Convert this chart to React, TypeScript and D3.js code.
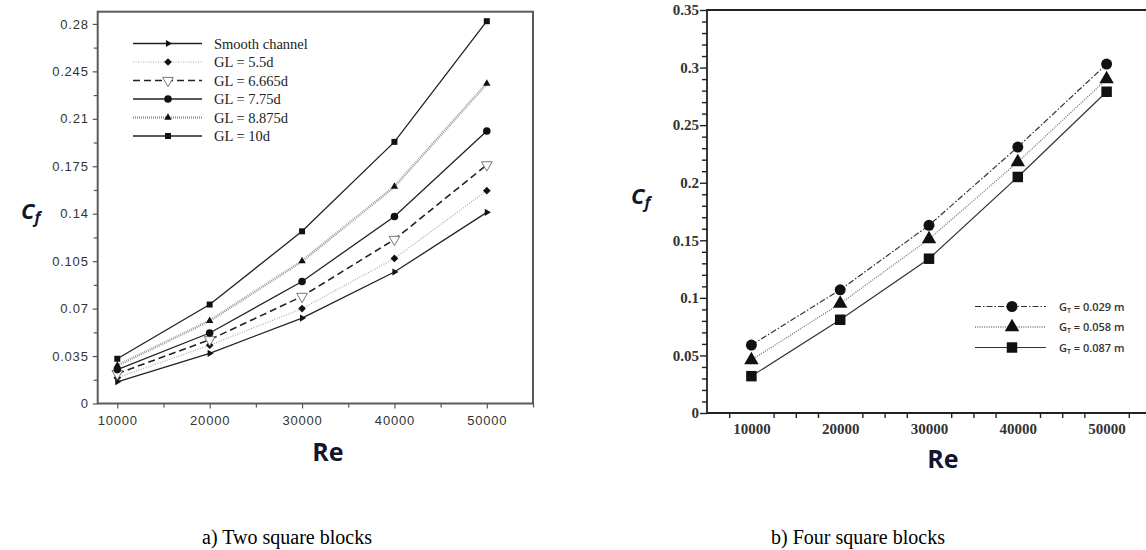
import React, { useEffect, useRef } from 'react';
import * as d3 from 'd3';

// Re values shared by both panels
const reValues = [10000, 20000, 30000, 40000, 50000];

// Panel a) two square blocks
const seriesA = ['Smooth channel', 'GL = 5.5d', 'GL = 6.665d', 'GL = 7.75d', 'GL = 8.875d', 'GL = 10d'];
const smooth = [0.016, 0.037, 0.063, 0.097, 0.141];
const gl55 = [0.019, 0.043, 0.070, 0.107, 0.157];
const gl6665 = [0.022, 0.047, 0.079, 0.121, 0.176];
const gl775 = [0.025, 0.052, 0.090, 0.138, 0.201];
const gl8875 = [0.028, 0.061, 0.105, 0.160, 0.236];
const gl10 = [0.033, 0.073, 0.127, 0.193, 0.282];
const yTicksA = [0, 0.035, 0.07, 0.105, 0.14, 0.175, 0.21, 0.245, 0.28];

// Panel b) four square blocks
const seriesB = ['0.029', '0.058', '0.087'];
const gt029 = [0.059, 0.107, 0.163, 0.231, 0.303];
const gt058 = [0.046, 0.095, 0.151, 0.218, 0.290];
const gt087 = [0.032, 0.081, 0.134, 0.205, 0.279];
const yTicksB = [0, 0.05, 0.1, 0.15, 0.2, 0.25, 0.3, 0.35];

export default function App() {
  const ref = useRef<SVGSVGElement | null>(null);

  useEffect(() => {
    const svg = d3.select(ref.current);
    svg.selectAll('*').remove();

    // ---------- panel a ----------
    const xA = d3.scaleLinear().domain([7880, 55000]).range([97.7, 533]);
    const yA = d3.scaleLinear().domain([0, 0.289]).range([403.5, 11.7]);
    const ga = svg.append('g');

    ga.append('rect')
      .attr('x', 97.7).attr('y', 11.7)
      .attr('width', 533 - 97.7).attr('height', 403.5 - 11.7)
      .attr('fill', 'none').attr('stroke', '#5a5a5a').attr('stroke-width', 2);

    const axA = ga.append('g').attr('transform', 'translate(0,403.5)')
      .call(d3.axisBottom(xA).tickValues(reValues).tickSize(5).tickFormat(d3.format('d')));
    ga.append('g').attr('transform', 'translate(0,403.5)')
      .call(d3.axisBottom(xA).tickValues([15000, 25000, 35000, 45000, 55000]).tickSize(4).tickFormat(() => ''));
    const ayA = ga.append('g').attr('transform', 'translate(97.7,0)')
      .call(d3.axisLeft(yA).tickValues(yTicksA).tickSize(5).tickFormat(d => String(+d)));
    ga.append('g').attr('transform', 'translate(97.7,0)')
      .call(d3.axisLeft(yA).tickValues(yTicksA.slice(0, -1).map(v => v + 0.0175)).tickSize(4).tickFormat(() => ''));
    ga.selectAll('.domain').remove();
    ga.selectAll('.tick line').attr('stroke', '#555').attr('stroke-width', 1.2);
    axA.selectAll('text').attr('font-family', 'Liberation Sans, Arial, sans-serif')
      .attr('font-size', 13).attr('letter-spacing', 0.8).attr('fill', '#333').attr('dy', '1.05em');
    ayA.selectAll('text').attr('font-family', 'Liberation Sans, Arial, sans-serif')
      .attr('font-size', 13).attr('letter-spacing', 0.8).attr('fill', '#333').attr('x', -9);

    const dataA = [smooth, gl55, gl6665, gl775, gl8875, gl10];
    const styleA = [
      { stroke: '#222', width: 1.3, dash: null, sym: d3.symbolTriangle, size: 22, rot: 90, fill: '#111', mstroke: 'none' },
      { stroke: '#aaa', width: 1.2, dash: '1,1.5', sym: d3.symbolSquare, size: 30, rot: 45, fill: '#111', mstroke: 'none' },
      { stroke: '#222', width: 1.6, dash: '7,4', sym: d3.symbolTriangle, size: 50, rot: 180, fill: '#fff', mstroke: '#777' },
      { stroke: '#222', width: 1.3, dash: null, sym: d3.symbolCircle, size: 45, rot: 0, fill: '#111', mstroke: 'none' },
      { stroke: '#999', width: 2.6, dash: '1,1', sym: d3.symbolTriangle, size: 24, rot: 0, fill: '#111', mstroke: 'none' },
      { stroke: '#222', width: 1.3, dash: null, sym: d3.symbolSquare, size: 36, rot: 0, fill: '#111', mstroke: 'none' },
    ];
    const lineA = d3.line<number>().x((_, i) => xA(reValues[i])).y(d => yA(d));

    dataA.forEach((vals, k) => {
      const s = styleA[k];
      ga.append('path').attr('d', lineA(vals)).attr('fill', 'none')
        .attr('stroke', s.stroke).attr('stroke-width', s.width)
        .attr('stroke-dasharray', s.dash);
    });
    dataA.forEach((vals, k) => {
      const s = styleA[k];
      ga.selectAll(null).data(vals).enter().append('path')
        .attr('d', d3.symbol().type(s.sym).size(s.size)())
        .attr('transform', (d, i) => `translate(${xA(reValues[i])},${yA(d)}) rotate(${s.rot})`)
        .attr('fill', s.fill).attr('stroke', s.mstroke).attr('stroke-width', 1);
    });

    // legend a
    seriesA.forEach((name, k) => {
      const s = styleA[k];
      const y = 43.5 + k * 18.5;
      ga.append('line').attr('x1', 133).attr('x2', 202).attr('y1', y).attr('y2', y)
        .attr('stroke', s.stroke).attr('stroke-width', s.width).attr('stroke-dasharray', s.dash);
      ga.append('path').attr('d', d3.symbol().type(s.sym).size(s.size)())
        .attr('transform', `translate(168,${y}) rotate(${s.rot})`)
        .attr('fill', s.fill).attr('stroke', s.mstroke).attr('stroke-width', 1);
      ga.append('text').attr('x', 214).attr('y', y + 5)
        .attr('font-family', 'Liberation Serif, Times New Roman, serif')
        .attr('font-size', 14.5).attr('fill', '#222').text(name);
    });

    // ---------- panel b ----------
    const xB = d3.scaleLinear().domain([5000, 55000]).range([707, 1151]);
    const yB = d3.scaleLinear().domain([0, 0.35]).range([413, 10]);
    const gb = svg.append('g');

    const minB = d3.range(7500, 55000, 2500).filter(v => v % 10000 !== 0);
    const axB = gb.append('g').attr('transform', 'translate(0,413)')
      .call(d3.axisBottom(xB).tickValues(reValues).tickSize(0).tickFormat(d3.format('d')));
    gb.append('g').attr('transform', 'translate(0,413)')
      .call(d3.axisBottom(xB).tickValues(minB).tickSize(5).tickFormat(() => ''));
    const ayB = gb.append('g').attr('transform', 'translate(707,0)')
      .call(d3.axisLeft(yB).tickValues(yTicksB).tickSize(7).tickFormat(d => String(+d)));
    gb.append('g').attr('transform', 'translate(707,0)')
      .call(d3.axisLeft(yB).tickValues(d3.range(1, 35).filter(v => v % 5 !== 0).map(v => v / 100)).tickSize(5).tickFormat(() => ''));
    gb.selectAll('.domain').remove();
    gb.selectAll('.tick line').attr('stroke', '#222').attr('stroke-width', 1.4);
    axB.selectAll('text').attr('font-family', 'Liberation Serif, Times New Roman, serif')
      .attr('font-size', 15).attr('font-weight', 'bold').attr('fill', '#333').attr('dy', '1.2em');
    ayB.selectAll('text').attr('font-family', 'Liberation Serif, Times New Roman, serif')
      .attr('font-size', 15).attr('font-weight', 'bold').attr('fill', '#333').attr('x', -8);

    gb.append('path').attr('d', 'M1146,10H707V413H1146')
      .attr('fill', 'none').attr('stroke', '#222').attr('stroke-width', 1.8);

    const dataB = [gt029, gt058, gt087];
    const styleB = [
      { stroke: '#333', width: 1.2, dash: '6,2,1.5,2', sym: d3.symbolCircle, size: 95 },
      { stroke: '#777', width: 1.3, dash: '1,1.3', sym: d3.symbolTriangle, size: 90 },
      { stroke: '#333', width: 1.2, dash: null, sym: d3.symbolSquare, size: 110 },
    ];
    const lineB = d3.line<number>().x((_, i) => xB(reValues[i])).y(d => yB(d));
    dataB.forEach((vals, k) => {
      const s = styleB[k];
      gb.append('path').attr('d', lineB(vals)).attr('fill', 'none')
        .attr('stroke', s.stroke).attr('stroke-width', s.width).attr('stroke-dasharray', s.dash);
      gb.selectAll(null).data(vals).enter().append('path')
        .attr('d', d3.symbol().type(s.sym).size(s.size)())
        .attr('transform', (d, i) => `translate(${xB(reValues[i])},${yB(d)})`)
        .attr('fill', '#111');
    });

    // legend b
    seriesB.forEach((val, k) => {
      const s = styleB[k];
      const y = 306.5 + k * 20.5;
      gb.append('line').attr('x1', 975).attr('x2', 1046).attr('y1', y).attr('y2', y)
        .attr('stroke', s.stroke).attr('stroke-width', s.width).attr('stroke-dasharray', s.dash);
      gb.append('path').attr('d', d3.symbol().type(s.sym).size(s.size)())
        .attr('transform', `translate(1012,${y})`).attr('fill', '#111');
      const t = gb.append('text').attr('x', 1059).attr('y', y + 4)
        .attr('font-family', 'Open Sans, sans-serif').attr('font-size', 11)
        .attr('font-weight', 600).attr('fill', '#333');
      t.append('tspan').text('G');
      t.append('tspan').attr('font-size', 7).attr('dy', 2).text('T');
      t.append('tspan').attr('dy', -2).text(` = ${val} m`);
    });

    // ---------- axis titles and captions ----------
    const cf = (x: number, y: number) => {
      const t = svg.append('text').attr('x', x).attr('y', y)
        .attr('font-family', 'Open Sans, sans-serif').attr('font-weight', 'bold')
        .attr('font-style', 'italic').attr('font-size', 22).attr('fill', '#15152a');
      t.append('tspan').text('C');
      t.append('tspan').attr('font-size', 16).attr('dy', 4).text('f');
    };
    cf(21, 219);
    cf(631, 204);

    [[328, 461], [943, 468]].forEach(([x, y]) => {
      svg.append('text').attr('x', x).attr('y', y).attr('text-anchor', 'middle')
        .attr('font-family', 'Open Sans, sans-serif').attr('font-weight', 'bold')
        .attr('font-size', 25).attr('fill', '#15152a').text('Re');
    });

    [[287, 'a) Two square blocks'], [858, 'b) Four square blocks']].forEach(([x, s]) => {
      svg.append('text').attr('x', x as number).attr('y', 544).attr('text-anchor', 'middle')
        .attr('font-family', 'Liberation Serif, Times New Roman, serif')
        .attr('font-size', 20).attr('fill', '#000').text(s as string);
    });
  }, []);

  return (
    <svg ref={ref} width={1146} height={550}
      style={{ position: 'absolute', left: 0, top: 0, background: '#fff' }} />
  );
}
